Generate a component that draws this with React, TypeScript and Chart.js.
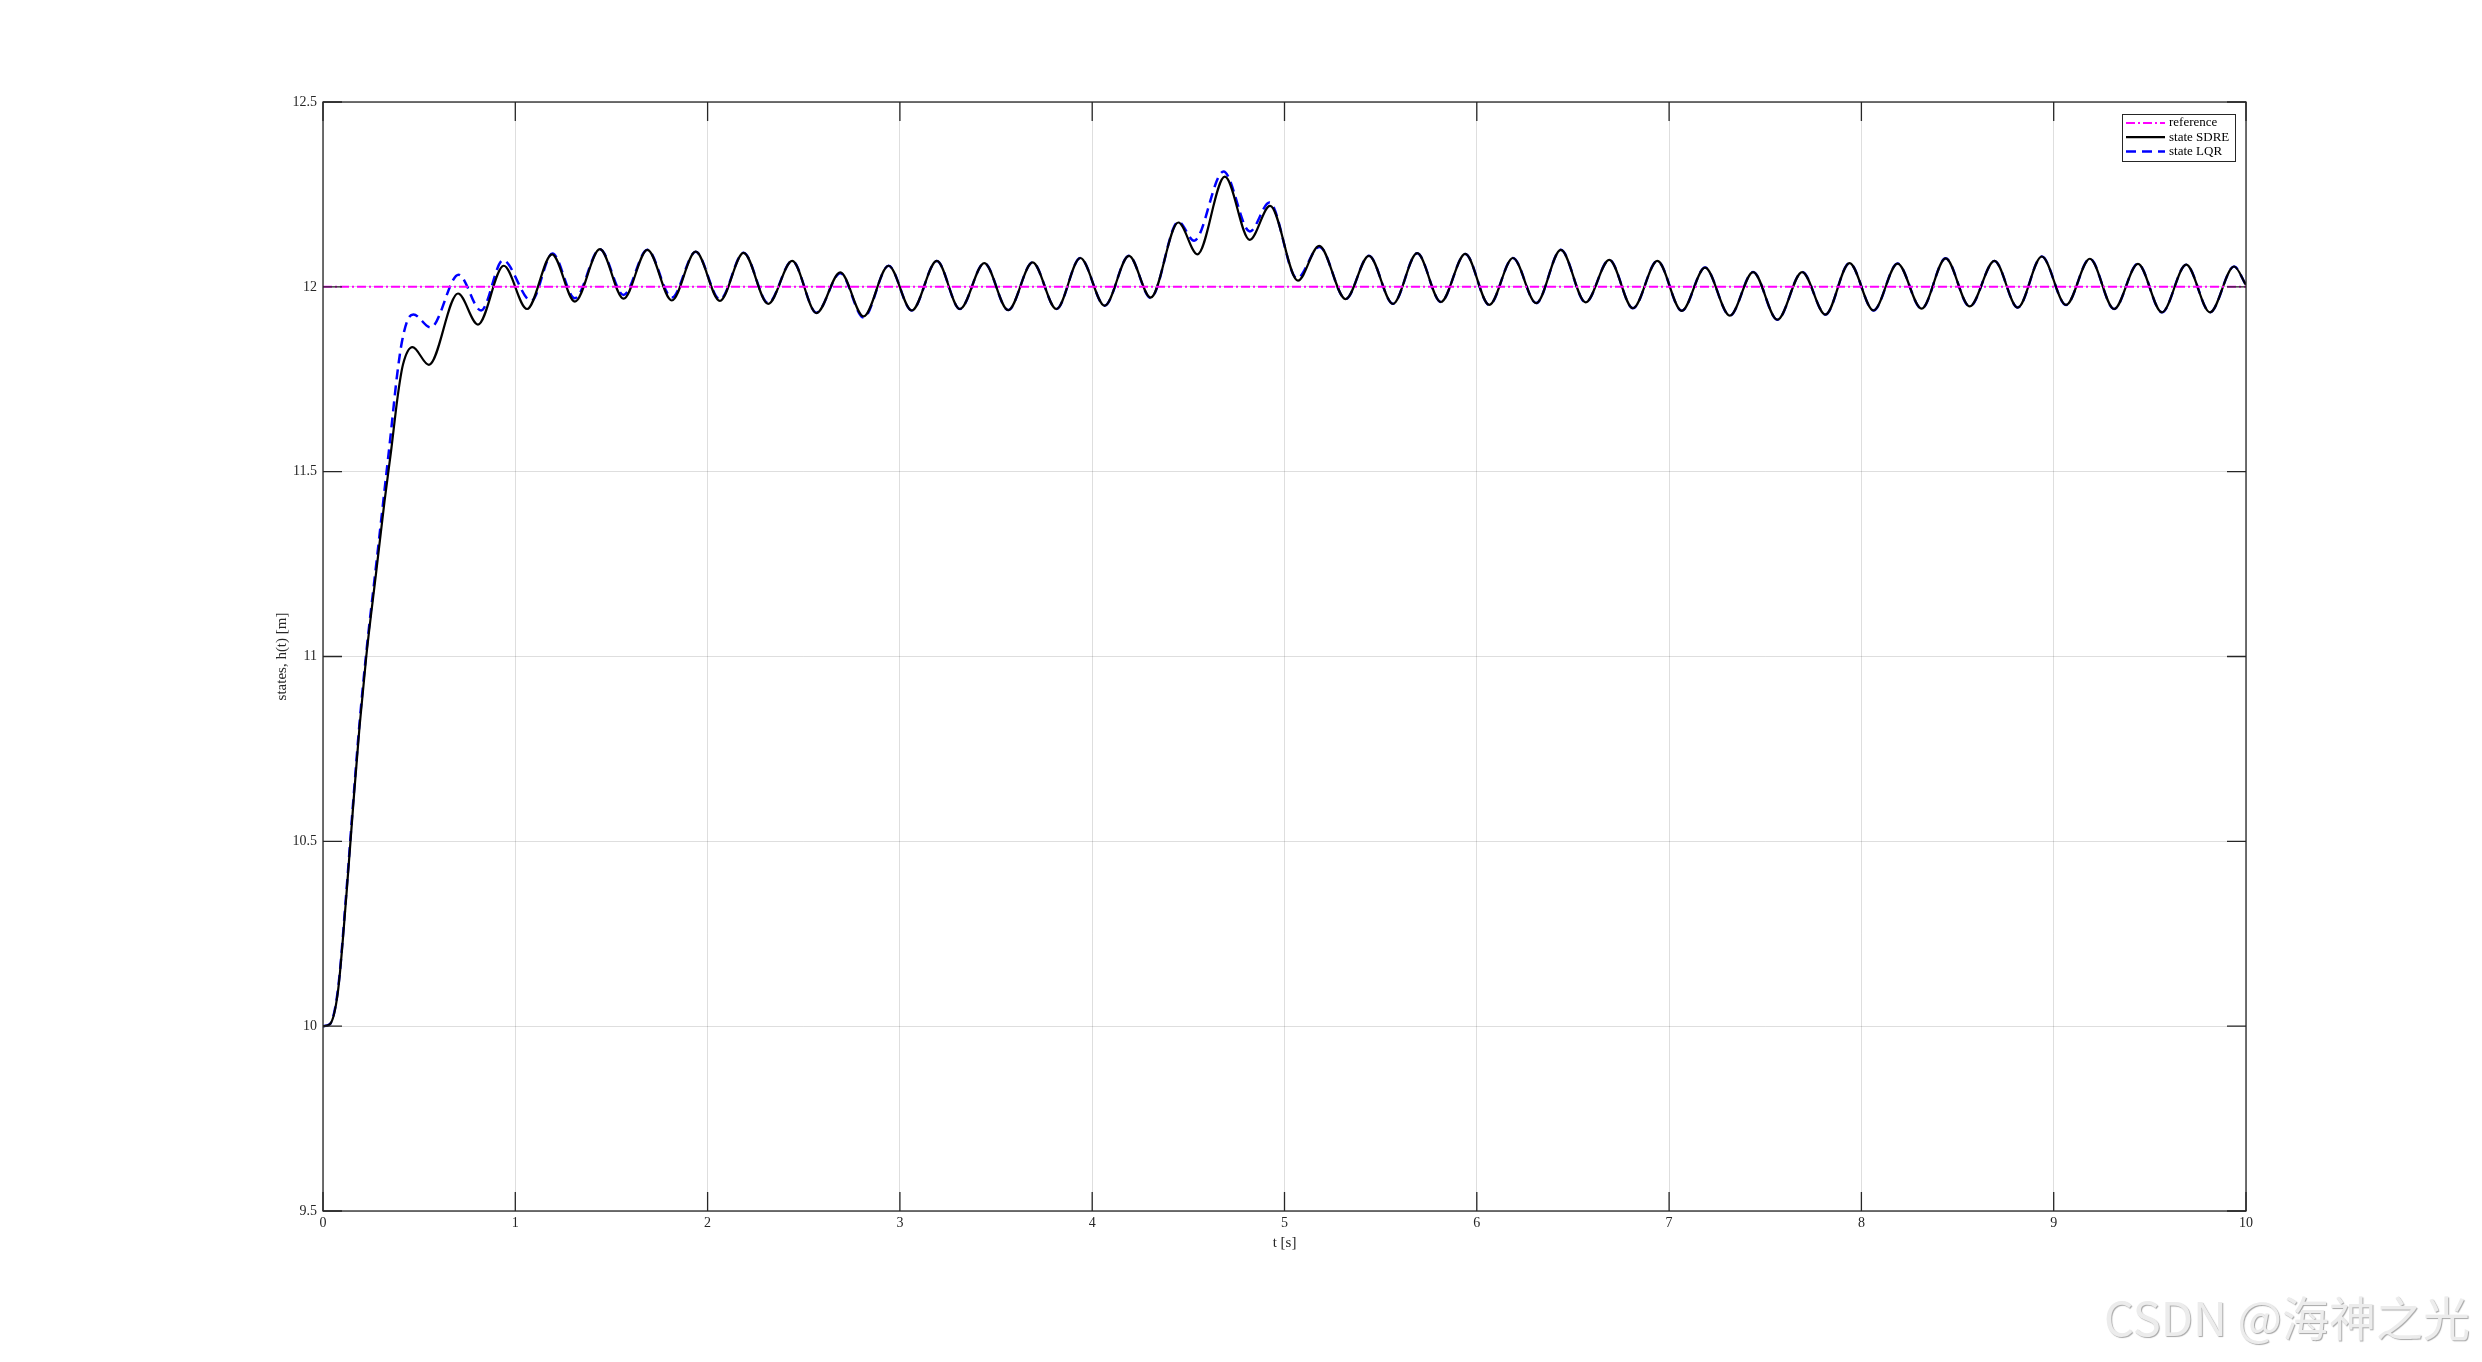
import React, { useEffect, useRef } from 'react';
import { Chart, registerables } from 'chart.js';

Chart.register(...registerables);

const W = 2482;
const H = 1362;
const FONT = '"Liberation Serif", "Times New Roman", serif';

const xTicks = [0, 1, 2, 3, 4, 5, 6, 7, 8, 9, 10];
const xTickLabels = ['0', '1', '2', '3', '4', '5', '6', '7', '8', '9', '10'];
const yTicks = [9.5, 10, 10.5, 11, 11.5, 12, 12.5];
const yTickLabels = ['9.5', '10', '10.5', '11', '11.5', '12', '12.5'];

const seriesNames = ['reference', 'state SDRE', 'state LQR'];

const refT = [0, 10];
const refH = [12, 12];

const sdreT = [
  0, 0.035, 0.078, 0.121, 0.156, 0.19, 0.225, 0.277, 0.32, 0.355, 0.39, 0.416,
  0.465, 0.551, 0.702, 0.806, 0.94, 1.061, 1.191, 1.31, 1.44, 1.563, 1.687, 1.814,
  1.938, 2.064, 2.187, 2.315, 2.44, 2.566, 2.69, 2.811, 2.941, 3.062, 3.192, 3.312,
  3.439, 3.563, 3.69, 3.814, 3.938, 4.065, 4.191, 4.304, 4.448, 4.547, 4.69, 4.819,
  4.925, 5.07, 5.18, 5.318, 5.439, 5.564, 5.69, 5.813, 5.94, 6.065, 6.188, 6.309,
  6.437, 6.566, 6.689, 6.812, 6.939, 7.066, 7.187, 7.316, 7.437, 7.563, 7.692, 7.813,
  7.938, 8.063, 8.188, 8.313, 8.438, 8.563, 8.692, 8.813, 8.938, 9.064, 9.188, 9.314,
  9.438, 9.563, 9.689, 9.813, 9.938, 10,
];
const sdreH = [
  10, 10.005, 10.095, 10.35, 10.59, 10.81, 11.0, 11.23, 11.42, 11.56, 11.71, 11.79,
  11.837, 11.789, 11.982, 11.898, 12.057, 11.94, 12.088, 11.96, 12.102, 11.968, 12.1, 11.963,
  12.095, 11.962, 12.092, 11.954, 12.07, 11.929, 12.039, 11.92, 12.057, 11.936, 12.07, 11.94,
  12.064, 11.937, 12.066, 11.94, 12.078, 11.949, 12.084, 11.971, 12.174, 12.088, 12.298, 12.127,
  12.219, 12.017, 12.111, 11.967, 12.084, 11.954, 12.091, 11.959, 12.089, 11.951, 12.078, 11.956,
  12.1, 11.958, 12.073, 11.942, 12.07, 11.935, 12.052, 11.922, 12.04, 11.911, 12.04, 11.925,
  12.064, 11.936, 12.063, 11.941, 12.077, 11.947, 12.07, 11.944, 12.082, 11.951, 12.076, 11.94,
  12.062, 11.931, 12.06, 11.931, 12.055, 12.005,
];

const lqrT = [
  0, 0.035, 0.078, 0.121, 0.156, 0.19, 0.225, 0.277, 0.32, 0.352, 0.385, 0.41,
  0.44, 0.47, 0.56, 0.705, 0.822, 0.936, 1.083, 1.193, 1.31, 1.44, 1.563, 1.687,
  1.814, 1.938, 2.064, 2.187, 2.315, 2.44, 2.566, 2.69, 2.811, 2.941, 3.062, 3.192,
  3.312, 3.439, 3.563, 3.69, 3.814, 3.938, 4.065, 4.191, 4.304, 4.448, 4.53, 4.683,
  4.82, 4.922, 5.065, 5.182, 5.318, 5.439, 5.564, 5.69, 5.813, 5.94, 6.065, 6.188,
  6.309, 6.437, 6.566, 6.689, 6.812, 6.939, 7.066, 7.187, 7.316, 7.437, 7.563, 7.692,
  7.813, 7.938, 8.063, 8.188, 8.313, 8.438, 8.563, 8.692, 8.813, 8.938, 9.064, 9.188,
  9.314, 9.438, 9.563, 9.689, 9.813, 9.938, 10,
];
const lqrH = [
  10, 10.005, 10.1, 10.36, 10.6, 10.82, 11.01, 11.25, 11.45, 11.6, 11.76, 11.85,
  11.91, 11.925, 11.89, 12.033, 11.936, 12.072, 11.962, 12.09, 11.969, 12.102, 11.978, 12.1,
  11.971, 12.095, 11.966, 12.092, 11.956, 12.07, 11.93, 12.037, 11.917, 12.057, 11.936, 12.07,
  11.94, 12.064, 11.937, 12.066, 11.94, 12.078, 11.949, 12.084, 11.97, 12.176, 12.125, 12.312,
  12.15, 12.228, 12.023, 12.108, 11.967, 12.084, 11.954, 12.091, 11.959, 12.089, 11.951, 12.078,
  11.956, 12.1, 11.958, 12.073, 11.942, 12.07, 11.935, 12.052, 11.922, 12.04, 11.911, 12.04,
  11.925, 12.064, 11.936, 12.063, 11.941, 12.077, 11.947, 12.07, 11.944, 12.082, 11.951, 12.076,
  11.94, 12.062, 11.931, 12.06, 11.931, 12.055, 12.005,
];

const toPoints = (t: number[], h: number[]) => t.map((v, i) => ({ x: v, y: h[i] }));

const TICK = 19;

const framePlugin = {
  id: 'matlabFrame',
  afterDatasetsDraw(chart: any) {
    const { ctx, chartArea: a, scales } = chart;
    const xs = scales.x;
    const ys = scales.y;
    ctx.save();
    ctx.setLineDash([]);
    ctx.strokeStyle = '#262626';
    ctx.lineWidth = 1.3;
    ctx.beginPath();
    xTicks.forEach((v) => {
      const px = xs.getPixelForValue(v);
      ctx.moveTo(px, a.bottom);
      ctx.lineTo(px, a.bottom - TICK);
      ctx.moveTo(px, a.top);
      ctx.lineTo(px, a.top + TICK);
    });
    yTicks.forEach((v) => {
      const py = ys.getPixelForValue(v);
      ctx.moveTo(a.left, py);
      ctx.lineTo(a.left + TICK, py);
      ctx.moveTo(a.right, py);
      ctx.lineTo(a.right - TICK, py);
    });
    ctx.stroke();
    ctx.strokeRect(a.left, a.top, a.right - a.left, a.bottom - a.top);

    // legend box
    const lx = a.right - 124;
    const ly = a.top + 12;
    const lw = 113;
    const lh = 47;
    ctx.fillStyle = '#ffffff';
    ctx.fillRect(lx, ly, lw, lh);
    ctx.lineWidth = 1;
    ctx.strokeStyle = '#262626';
    ctx.strokeRect(lx + 0.5, ly + 0.5, lw, lh);
    const ds = chart.data.datasets;
    ds.forEach((d: any, i: number) => {
      const cy = ly + 9 + i * 14.2;
      ctx.beginPath();
      ctx.strokeStyle = d.borderColor;
      ctx.lineWidth = d.borderWidth;
      ctx.setLineDash(d.borderDash || []);
      ctx.moveTo(lx + 4, cy);
      ctx.lineTo(lx + 43, cy);
      ctx.stroke();
      ctx.setLineDash([]);
      ctx.fillStyle = '#000000';
      ctx.font = `13px ${FONT}`;
      ctx.textBaseline = 'middle';
      ctx.textAlign = 'left';
      ctx.fillText(d.label, lx + 47, cy);
    });
    ctx.restore();
  },
};

export default function App() {
  const ref = useRef<HTMLCanvasElement | null>(null);

  useEffect(() => {
    if (!ref.current) return;
    const chart = new Chart(ref.current, {
      type: 'line',
      data: {
        datasets: [
          {
            label: seriesNames[0],
            data: toPoints(refT, refH),
            borderColor: '#FF00FF',
            borderWidth: 2,
            borderDash: [9, 3, 2, 3],
            pointRadius: 0,
            fill: false,
            order: 0,
          },
          {
            label: seriesNames[1],
            data: toPoints(sdreT, sdreH),
            borderColor: '#000000',
            borderWidth: 2.2,
            pointRadius: 0,
            fill: false,
            cubicInterpolationMode: 'monotone',
            order: 1,
          },
          {
            label: seriesNames[2],
            data: toPoints(lqrT, lqrH),
            borderColor: '#0000FF',
            borderWidth: 2.5,
            borderDash: [10, 6],
            pointRadius: 0,
            fill: false,
            cubicInterpolationMode: 'monotone',
            order: 2,
          },
        ],
      },
      options: {
        responsive: false,
        animation: false,
        devicePixelRatio: 1,
        layout: { padding: { left: 273, right: 236, top: 102, bottom: 110 } },
        plugins: {
          legend: { display: false },
          tooltip: { enabled: false },
          title: { display: false },
        },
        scales: {
          x: {
            type: 'linear',
            min: 0,
            max: 10,
            afterBuildTicks: (s: any) => {
              s.ticks = xTicks.map((v) => ({ value: v }));
            },
            afterFit: (s: any) => {
              s.height = 41;
            },
            ticks: {
              color: '#262626',
              font: { family: FONT, size: 14 },
              padding: 4,
              maxRotation: 0,
              autoSkip: false,
              callback: (_v: any, i: number) => xTickLabels[i],
            },
            grid: { color: 'rgba(0,0,0,0.13)', lineWidth: 1, drawTicks: false },
            border: { display: false },
            title: {
              display: true,
              text: 't [s]',
              color: '#262626',
              font: { family: FONT, size: 15 },
              padding: 0,
            },
          },
          y: {
            type: 'linear',
            min: 9.5,
            max: 12.5,
            afterBuildTicks: (s: any) => {
              s.ticks = yTicks.map((v) => ({ value: v }));
            },
            afterFit: (s: any) => {
              s.width = 50;
            },
            ticks: {
              color: '#262626',
              font: { family: FONT, size: 14 },
              padding: 6,
              autoSkip: false,
              callback: (_v: any, i: number) => yTickLabels[i],
            },
            grid: { color: 'rgba(0,0,0,0.13)', lineWidth: 1, drawTicks: false },
            border: { display: false },
            title: {
              display: true,
              text: 'states, h(t) [m]',
              color: '#262626',
              font: { family: FONT, size: 15 },
              padding: 0,
            },
          },
        },
      },
      plugins: [framePlugin],
    } as any);
    return () => chart.destroy();
  }, []);

  return (
    <div style={{ position: 'absolute', left: 0, top: 0, width: W, height: H, background: '#ffffff', overflow: 'hidden' }}>
      <canvas ref={ref} width={W} height={H} style={{ display: 'block', width: W, height: H }} />
      <div
        style={{
          position: 'absolute',
          left: 2104,
          top: 1292,
          fontFamily: '"Noto Sans CJK SC", "Noto Sans", sans-serif',
          fontSize: 47,
          lineHeight: '47px',
          color: '#ececec',
          whiteSpace: 'nowrap',
          textShadow: '1px 1px 1px rgba(0,0,0,0.35), -1px -1px 0 rgba(255,255,255,0.9)',
        }}
      >
        CSDN @海神之光
      </div>
    </div>
  );
}
